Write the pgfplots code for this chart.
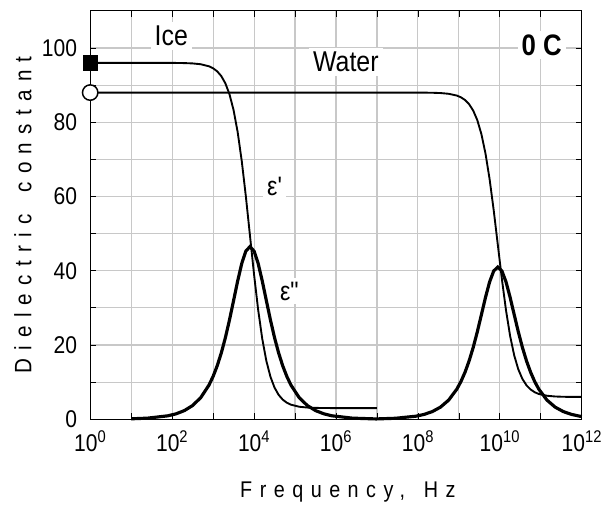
\documentclass[border=0pt]{standalone}
\usepackage{pgfplots}
\pgfplotsset{compat=1.18}
\usepackage{fontspec}
\setmainfont{Liberation Sans}[FakeStretch=0.87]
\newfontfamily\epsfont{Liberation Sans}[FakeStretch=0.87]
\newfontfamily\ylabfont{Liberation Sans}[FakeStretch=0.87, LetterSpace=35]
\newfontfamily\xlabfont{Liberation Sans}[FakeStretch=0.87, LetterSpace=33]
\begin{document}
\fontsize{24.5}{28}\selectfont
\begin{tikzpicture}
\begin{axis}[
  scale only axis, width=496bp, height=412bp,
  xmin=0, xmax=12, ymin=0, ymax=110,
  xtick={0,2,4,6,8,10,12},
  xticklabels={10\textsuperscript{0},10\textsuperscript{2},10\textsuperscript{4},10\textsuperscript{6},10\textsuperscript{8},10\textsuperscript{10},10\textsuperscript{12}},
  minor xtick={1,3,5,7,9,11},
  ytick={0,20,40,60,80,100},
  minor ytick={10,30,50,70,90},
  xmajorgrids, xminorgrids, ymajorgrids, yminorgrids,
  grid style={draw={rgb,255:red,200;green,200;blue,200}, line width=1.1pt},
  major grid style={draw={rgb,255:red,200;green,200;blue,200}, line width=1.1pt},
  minor grid style={draw={rgb,255:red,200;green,200;blue,200}, line width=1.1pt},
  tick align=inside, tick pos=both,
  major tick length=6pt, minor tick length=6pt,
  major tick style={black, line width=0.8pt},
  minor tick style={black, line width=0.8pt},
  axis line style={black, line width=1.2pt},
  /pgf/number format/assume math mode=true,
  ticklabel style={font=\fontsize{24.5}{28}\selectfont},
  xticklabel style={yshift=-3pt},
  yticklabel style={xshift=-5pt},
  xlabel={\xlabfont Frequency,\hspace{6pt} Hz},
  ylabel={\ylabfont Dielectric\hspace{8pt} constant},
  xlabel style={font=\fontsize{23}{26}\selectfont, at={(axis description cs:0.5,0)}, anchor=center, yshift=-73bp, xshift=12bp},
  ylabel style={font=\fontsize{24}{28}\selectfont, at={(axis description cs:0,0.5)}, anchor=center, yshift=68bp},
  clip=false,
]
% Ice eps'
\addplot[black, line width=1.9pt] coordinates {
(0,96.0)(1.9,95.99)(2.1,95.98)(2.3,95.94)(2.5,95.85)(2.7,95.63)(2.9,95.08)(3.0,94.55)(3.1,93.72)(3.2,92.44)(3.3,90.48)(3.4,87.55)(3.5,83.28)(3.6,77.33)(3.7,69.52)(3.8,60.02)(3.9,49.5)(4.0,38.98)(4.1,29.48)(4.2,21.67)(4.3,15.72)(4.4,11.45)(4.5,8.52)(4.6,6.56)(4.7,5.28)(4.8,4.45)(4.9,3.92)(5.1,3.37)(5.3,3.15)(5.5,3.06)(5.7,3.02)(5.9,3.01)(7.0,3.0)};
% Ice eps''
\addplot[black, line width=3.2pt] coordinates {
(1.0,0.117)(1.4,0.294)(1.9,0.930)(2.1,1.474)(2.3,2.335)(2.5,3.697)(2.7,5.845)(2.9,9.208)(3.0,11.53)(3.1,14.38)(3.2,17.85)(3.3,21.97)(3.4,26.74)(3.5,31.96)(3.6,37.25)(3.7,41.97)(3.8,45.29)(3.9,46.5)(4.0,45.29)(4.1,41.97)(4.2,37.25)(4.3,31.96)(4.4,26.74)(4.5,21.97)(4.6,17.85)(4.7,14.38)(4.8,11.53)(4.9,9.208)(5.1,5.845)(5.3,3.697)(5.5,2.335)(5.7,1.474)(5.9,0.930)(6.4,0.294)(7.0,0.074)};
% Water eps'
\addplot[black, line width=1.9pt] coordinates {
(0,88.0)(7.95,87.99)(8.15,87.98)(8.35,87.95)(8.55,87.87)(8.75,87.67)(8.95,87.19)(9.05,86.72)(9.15,85.99)(9.25,84.86)(9.35,83.13)(9.45,80.55)(9.55,76.78)(9.65,71.54)(9.75,64.65)(9.85,56.28)(9.95,47.0)(10.05,37.72)(10.15,29.35)(10.25,22.46)(10.35,17.22)(10.45,13.45)(10.55,10.87)(10.65,9.14)(10.75,8.01)(10.85,7.28)(10.95,6.81)(11.15,6.33)(11.35,6.13)(11.55,6.05)(11.75,6.02)(11.95,6.01)(12,6.01)};
% Water eps''
\addplot[black, line width=3.2pt] coordinates {
(7.0,0.092)(7.45,0.259)(7.95,0.820)(8.15,1.299)(8.35,2.058)(8.55,3.259)(8.75,5.153)(8.95,8.119)(9.05,10.16)(9.15,12.68)(9.25,15.73)(9.35,19.37)(9.45,23.57)(9.55,28.18)(9.65,32.85)(9.75,37.01)(9.85,39.94)(9.95,41.0)(10.05,39.94)(10.15,37.01)(10.25,32.85)(10.35,28.18)(10.45,23.57)(10.55,19.37)(10.65,15.73)(10.75,12.68)(10.85,10.16)(10.95,8.119)(11.15,5.153)(11.35,3.259)(11.55,2.058)(11.75,1.299)(11.95,0.820)(12,0.731)};
% static markers
\addplot[only marks, mark=square*, mark size=7.5pt, black] coordinates {(0,96)};
\addplot[only marks, mark=*, mark size=7.8pt, draw=black, fill=white, line width=1.5pt] coordinates {(0,88)};
% labels
\node[fill=white, inner sep=4pt, font=\fontsize{29}{32}\selectfont] at (axis cs:1.98,103.2) {Ice};
\node[fill=white, inner sep=4pt, font=\fontsize{29}{32}\selectfont] at (axis cs:6.24,96.3) {Water};
\node[fill=white, inner sep=4pt, font=\fontsize{30}{33}\selectfont\bfseries] at (axis cs:11.02,100.8) {0 C};
\node[fill=white, inner sep=4pt, font=\fontsize{27}{30}\selectfont\epsfont] at (axis cs:4.5,62.8) {ε'};
\node[fill=white, inner sep=4pt, font=\fontsize{27}{30}\selectfont\epsfont] at (axis cs:4.86,34.5) {ε"};
% frame extent
\path (rel axis cs:0,0) ++(-91bp,-84bp) coordinate (bbA);
\path (rel axis cs:1,1) ++(23bp,11bp) coordinate (bbB);
\path (bbA) rectangle (bbB);
\end{axis}
\end{tikzpicture}
\end{document}
